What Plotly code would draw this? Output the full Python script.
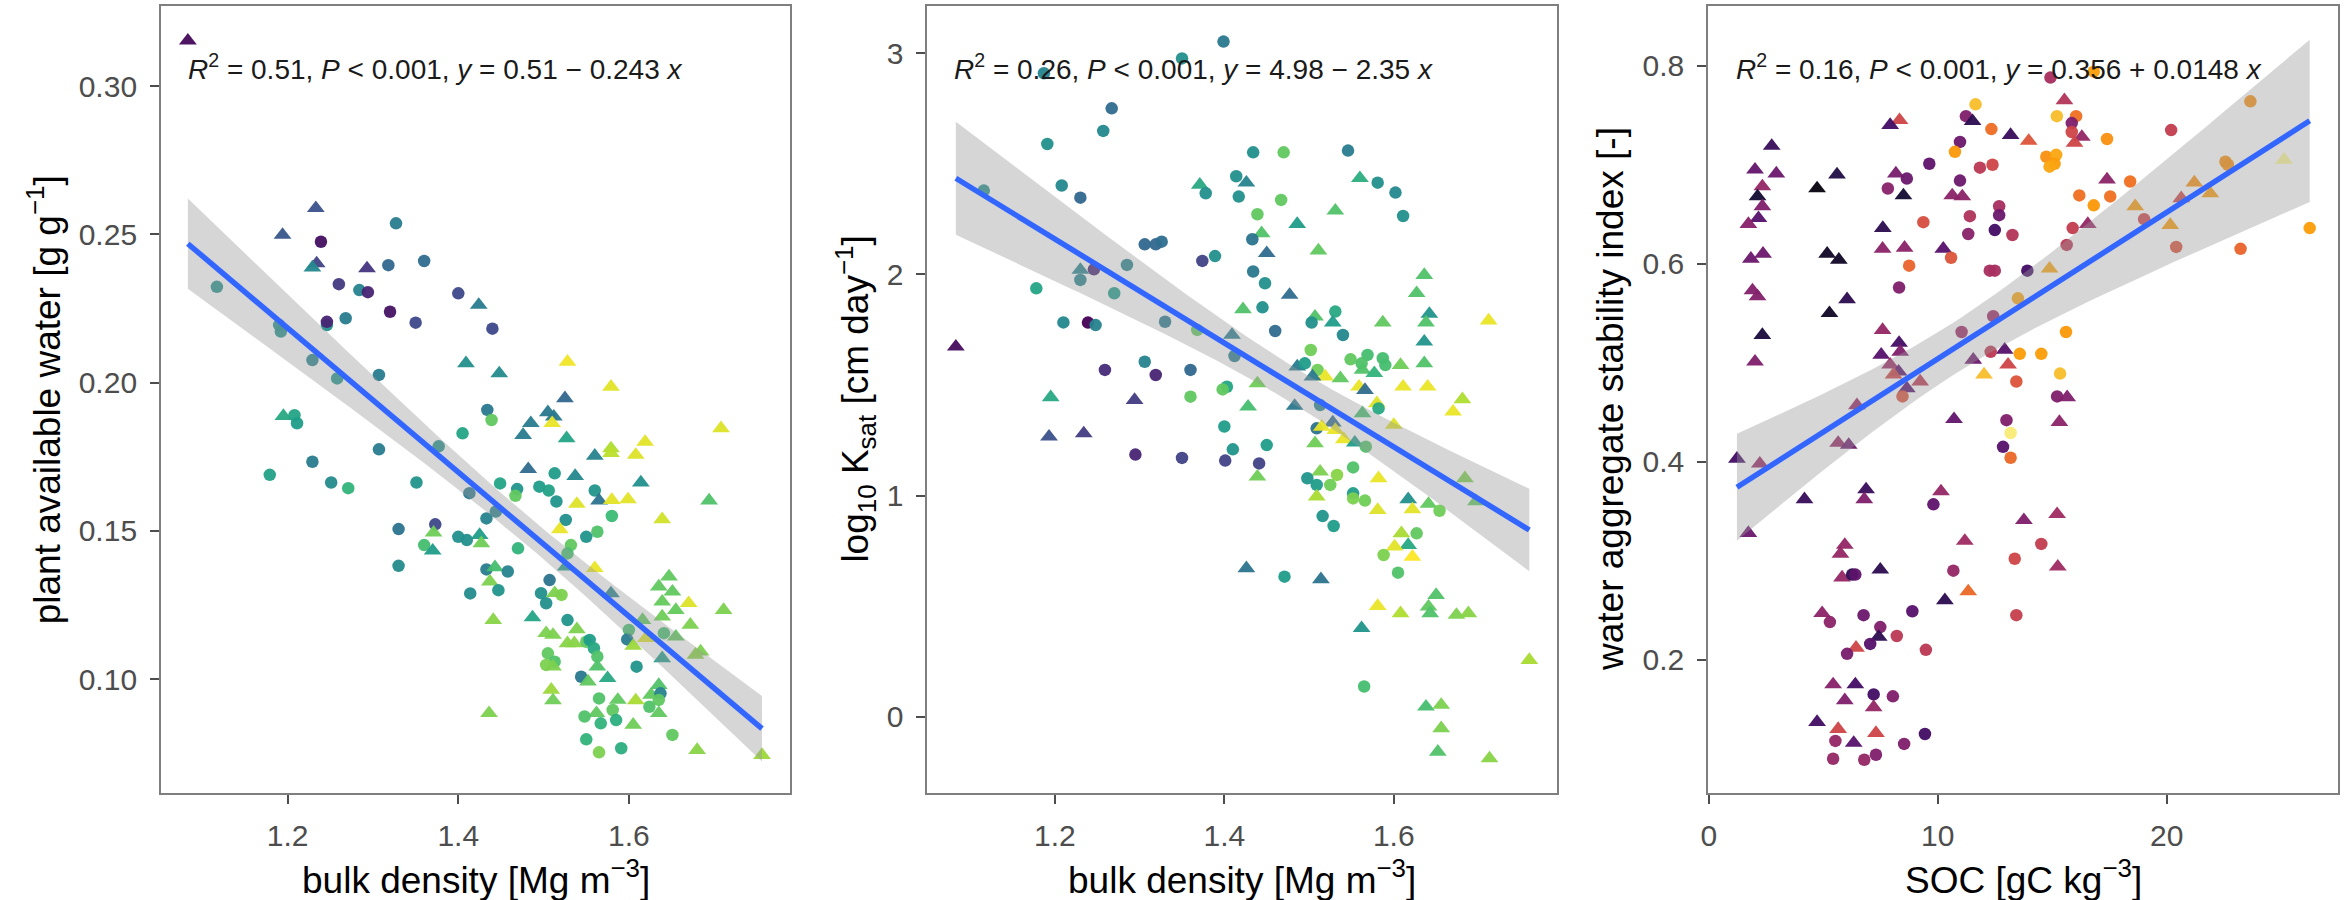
import numpy as np
import plotly.graph_objects as go

# ---------------- Panel 1: bulk density vs plant available water ----------------
p1_bd = [1.083,1.233,1.194,1.239,1.327,1.234,1.229,1.293,1.318,1.360,
         1.260,1.284,1.294,1.400,1.424,1.320,1.350,1.440,1.246,1.246,
         1.268,1.117,1.190,1.192,1.229,1.258,1.307,1.409,1.448,1.528,
         1.579,1.525,1.434,1.439,1.195,1.208,1.211,1.405,1.505,1.512,
         1.510,1.485,1.476,1.527,1.579,1.579,1.619,1.708,1.608,1.560,
         1.307,1.377,1.482,1.513,1.537,1.614,1.449,1.495,1.506,1.469,
         1.467,1.413,1.560,1.565,1.515,1.539,1.580,1.599,1.694,1.580,
         1.639,1.433,1.444,1.526,1.519,1.563,1.179,1.229,1.251,1.271,
         1.351,1.330,1.373,1.371,1.360,1.370,1.330,1.400,1.410,1.425,
         1.427,1.470,1.550,1.532,1.528,1.526,1.560,1.433,1.443,1.458,
         1.437,1.447,1.414,1.507,1.497,1.503,1.513,1.521,1.579,1.647,
         1.635,1.651,1.639,1.655,1.639,1.670,1.672,1.711,1.441,1.487,
         1.503,1.511,1.528,1.539,1.528,1.536,1.550,1.554,1.559,1.563,
         1.600,1.598,1.605,1.620,1.616,1.641,1.655,1.639,1.684,1.678,
         1.505,1.513,1.503,1.511,1.563,1.544,1.552,1.575,1.609,1.509,
         1.511,1.436,1.635,1.626,1.637,1.635,1.624,1.635,1.608,1.565,
         1.587,1.581,1.585,1.562,1.548,1.567,1.605,1.651,1.550,1.591,
         1.565,1.680,1.756]
p1_paw = [0.3153,0.2588,0.2498,0.2475,0.2537,0.2402,0.2388,0.2385,0.2396,0.2410,
          0.2332,0.2312,0.2305,0.2301,0.2262,0.2239,0.2202,0.2182,0.2194,0.2205,
          0.2217,0.2323,0.2194,0.2172,0.2076,0.2014,0.2026,0.2065,0.2031,0.2070,
          0.1986,0.1947,0.1908,0.1874,0.1887,0.1890,0.1863,0.1829,0.1900,0.1885,
          0.1863,0.1863,0.1823,0.1812,0.1778,0.1762,0.1800,0.1846,0.1756,0.1753,
          0.1775,0.1785,0.1708,0.1694,0.1685,0.1663,0.1660,0.1649,0.1636,0.1641,
          0.1618,0.1627,0.1636,0.1602,0.1599,0.1591,0.1604,0.1606,0.1602,0.1550,
          0.1539,0.1542,0.1565,0.1537,0.1505,0.1497,0.1689,0.1733,0.1663,0.1644,
          0.1663,0.1506,0.1522,0.1494,0.1452,0.1433,0.1382,0.1480,0.1469,0.1486,
          0.1458,0.1441,0.1480,0.1452,0.1424,0.1379,0.1374,0.1370,0.1377,0.1363,
          0.1329,0.1300,0.1289,0.1334,0.1290,0.1256,0.1290,0.1284,0.1289,0.1346,
          0.1312,0.1295,0.1261,0.1233,0.1211,0.1256,0.1183,0.1233,0.1199,0.1208,
          0.1155,0.1149,0.1199,0.1168,0.1121,0.1121,0.1126,0.1132,0.1104,0.1076,
          0.1166,0.1134,0.1112,0.1138,0.1199,0.1155,0.1143,0.1070,0.1093,0.1082,
          0.1087,0.1059,0.1048,0.1042,0.1042,0.1008,0.0992,0.1003,0.1042,0.0964,
          0.0928,0.0885,0.0980,0.0947,0.0952,0.0930,0.0907,0.0885,0.0928,0.0935,
          0.0930,0.0896,0.0862,0.0885,0.0874,0.0851,0.0846,0.0812,0.0797,0.0767,
          0.0753,0.0761,0.0744]
p1_shape = ["t","t","t","c","c","t","t","t","c","c",
            "c","c","c","c","t","c","c","c","c","c",
            "c","c","c","c","c","c","c","t","t","t",
            "t","t","c","c","t","c","c","c","t","t",
            "t","t","t","t","t","t","t","t","t","t",
            "c","c","t","c","t","t","c","c","c","c",
            "c","c","c","t","c","t","t","t","t","c",
            "t","c","c","c","t","c","c","c","c","c",
            "c","c","c","t","c","t","c","c","c","t",
            "t","c","c","c","c","t","t","c","t","c",
            "t","c","c","c","c","c","t","c","t","t",
            "t","t","t","t","t","t","t","t","t","t",
            "t","t","c","t","t","t","c","c","c","c",
            "c","c","t","t","t","c","t","t","t","t",
            "c","c","c","t","t","c","t","t","c","t",
            "t","t","t","t","c","c","c","t","t","c",
            "t","c","c","t","c","c","t","c","c","c",
            "c","t","t"]
p1_col = [0.02,0.25,0.27,0.04,0.42,0.20,0.47,0.15,0.33,0.35,
          0.17,0.45,0.10,0.22,0.42,0.05,0.22,0.22,0.50,0.10,
          0.42,0.50,0.50,0.50,0.45,0.52,0.42,0.50,0.48,0.98,
          0.96,0.33,0.40,0.75,0.60,0.58,0.55,0.58,0.40,0.40,
          0.97,0.42,0.42,0.58,0.88,0.90,0.96,0.95,0.95,0.45,
          0.42,0.50,0.35,0.55,0.47,0.50,0.58,0.55,0.57,0.52,
          0.75,0.40,0.52,0.38,0.52,0.95,0.96,0.96,0.72,0.68,
          0.93,0.45,0.45,0.50,0.97,0.72,0.57,0.42,0.48,0.65,
          0.52,0.38,0.22,0.78,0.70,0.55,0.48,0.50,0.50,0.55,
          0.78,0.65,0.52,0.75,0.70,0.55,0.97,0.42,0.70,0.45,
          0.80,0.52,0.48,0.38,0.50,0.50,0.80,0.80,0.45,0.75,
          0.75,0.75,0.76,0.76,0.78,0.95,0.80,0.80,0.82,0.58,
          0.80,0.80,0.52,0.80,0.82,0.82,0.75,0.55,0.60,0.72,
          0.70,0.42,0.85,0.95,0.75,0.70,0.75,0.55,0.80,0.82,
          0.75,0.72,0.80,0.80,0.72,0.40,0.75,0.60,0.52,0.85,
          0.78,0.80,0.72,0.75,0.45,0.75,0.72,0.75,0.87,0.72,
          0.75,0.75,0.62,0.75,0.72,0.65,0.78,0.75,0.65,0.62,
          0.80,0.82,0.85]
p1_fit = [0.51, -0.243]   # intercept, slope

# ---------------- Panel 2: bulk density vs log10 Ksat ----------------
p2_bd = [1.399,1.187,1.350,1.267,1.257,1.191,1.208,1.230,1.116,1.434,
         1.470,1.546,1.414,1.426,1.371,1.378,1.417,1.467,1.439,1.560,
         1.581,1.602,1.611,1.531,1.486,1.444,1.433,1.450,1.306,1.319,
         1.326,1.511,1.374,1.389,1.285,1.230,1.246,1.230,1.434,1.448,
         1.477,1.178,1.270,1.636,1.627,1.422,1.445,1.531,1.507,1.528,
         1.503,1.540,1.587,1.642,1.638,1.636,1.712,1.210,1.239,1.248,
         1.330,1.368,1.409,1.460,1.083,1.502,1.412,1.486,1.495,1.510,
         1.519,1.537,1.504,1.549,1.569,1.587,1.590,1.562,1.563,1.577,
         1.608,1.636,1.559,1.566,1.611,1.640,1.681,1.670,1.259,1.306,
         1.319,1.360,1.403,1.398,1.439,1.360,1.195,1.294,1.428,1.483,
         1.513,1.580,1.582,1.563,1.600,1.400,1.509,1.528,1.515,1.531,
         1.541,1.507,1.554,1.567,1.193,1.234,1.450,1.410,1.295,1.350,
         1.401,1.441,1.439,1.552,1.513,1.533,1.498,1.582,1.684,1.509,
         1.525,1.509,1.516,1.529,1.552,1.552,1.566,1.581,1.617,1.622,
         1.641,1.654,1.697,1.609,1.627,1.617,1.601,1.622,1.588,1.605,
         1.426,1.471,1.514,1.650,1.581,1.608,1.641,1.643,1.674,1.688,
         1.562,1.760,1.565,1.638,1.656,1.656,1.652,1.713]
p2_ksat = [3.053,2.910,2.977,2.751,2.649,2.590,2.402,2.347,2.379,2.552,
           2.552,2.560,2.444,2.415,2.405,2.367,2.352,2.337,2.272,2.435,
           2.415,2.370,2.264,2.288,2.228,2.186,2.159,2.096,2.136,2.136,
           2.148,2.108,2.061,2.083,2.043,2.020,2.023,1.975,2.013,1.960,
           1.907,1.937,1.915,1.997,1.915,1.842,1.851,1.832,1.809,1.782,
           1.782,1.726,1.782,1.821,1.782,1.696,1.791,1.783,1.782,1.771,
           1.786,1.749,1.726,1.744,1.673,1.658,1.631,1.583,1.598,1.568,
           1.538,1.530,1.538,1.616,1.636,1.621,1.590,1.598,1.568,1.553,
           1.590,1.598,1.492,1.477,1.492,1.492,1.435,1.379,1.568,1.605,
           1.545,1.568,1.492,1.480,1.507,1.447,1.444,1.432,1.402,1.405,
           1.409,1.417,1.394,1.372,1.319,1.312,1.304,1.330,1.311,1.296,
           1.254,1.236,1.239,1.221,1.266,1.281,1.228,1.209,1.185,1.170,
           1.158,1.145,1.085,1.127,1.108,1.093,1.078,1.078,1.078,1.048,
           1.048,0.995,0.907,0.862,1.010,0.987,0.977,0.934,0.983,0.937,
           0.962,0.931,0.974,0.829,0.829,0.776,0.769,0.723,0.731,0.651,
           0.671,0.633,0.621,0.550,0.500,0.467,0.497,0.467,0.460,0.467,
           0.400,0.256,0.136,0.045,0.053,-0.053,-0.159,-0.189]
p2_shape = ["c","c","c","c","c","c","c","c","c","c",
            "c","c","c","t","t","c","c","c","c","t",
            "c","c","c","t","t","t","c","t","c","c",
            "c","t","c","c","c","t","c","c","c","c",
            "t","c","c","t","t","t","c","c","t","t",
            "c","c","t","t","t","t","t","c","c","c",
            "c","c","t","c","t","c","c","t","c","c",
            "t","t","t","c","c","c","c","c","t","t",
            "t","t","t","t","t","t","t","t","c","c",
            "c","c","c","c","t","c","t","t","t","t",
            "c","t","c","t","t","c","c","t","t","t",
            "t","t","t","c","t","t","c","c","c","c",
            "c","c","t","c","t","c","c","t","t","c",
            "c","t","c","c","c","c","c","t","t","t",
            "t","c","t","t","c","t","t","t","c","c",
            "t","c","t","t","t","t","t","t","t","t",
            "t","t","c","t","t","t","t","t"]
p2_col = [0.40,0.45,0.50,0.35,0.47,0.50,0.47,0.33,0.50,0.50,
          0.75,0.42,0.50,0.45,0.60,0.50,0.50,0.75,0.75,0.62,
          0.50,0.47,0.50,0.72,0.55,0.72,0.38,0.35,0.33,0.33,
          0.36,0.75,0.20,0.50,0.45,0.45,0.10,0.45,0.40,0.50,
          0.35,0.58,0.55,0.72,0.72,0.72,0.50,0.60,0.72,0.55,
          0.50,0.47,0.75,0.52,0.72,0.52,0.97,0.47,0.00,0.45,
          0.40,0.75,0.42,0.35,0.03,0.78,0.42,0.42,0.55,0.78,
          0.97,0.75,0.40,0.75,0.70,0.70,0.70,0.72,0.72,0.65,
          0.78,0.72,0.97,0.35,0.97,0.97,0.88,0.97,0.12,0.45,
          0.10,0.33,0.58,0.75,0.78,0.75,0.60,0.18,0.70,0.40,
          0.45,0.95,0.60,0.70,0.95,0.55,0.38,0.35,0.97,0.97,
          0.97,0.78,0.55,0.72,0.25,0.18,0.55,0.52,0.10,0.20,
          0.20,0.20,0.78,0.72,0.80,0.82,0.52,0.97,0.80,0.55,
          0.78,0.87,0.52,0.55,0.55,0.80,0.78,0.95,0.50,0.96,
          0.75,0.78,0.75,0.87,0.75,0.60,0.96,1.00,0.80,0.72,
          0.38,0.55,0.38,0.72,0.97,0.88,0.75,0.72,0.80,0.82,
          0.52,0.87,0.70,0.70,0.80,0.80,0.72,0.82]
p2_fit = [4.98, -2.35]

# ---------------- Panel 3: SOC vs water aggregate stability ----------------
p3_soc = [14.92,16.81,15.53,11.65,15.20,16.04,8.33,7.92,11.23,11.52,
          12.34,13.18,13.97,15.85,15.85,16.29,15.97,17.39,2.75,10.97,
          10.75,14.74,15.17,15.10,14.88,9.63,2.02,2.95,5.60,11.84,
          12.39,8.17,8.65,17.39,2.34,4.73,10.97,7.82,2.13,8.50,
          10.63,11.07,16.18,16.81,17.53,18.40,2.34,12.68,12.68,2.17,
          1.73,9.37,11.40,7.60,12.49,11.33,13.26,15.89,16.55,15.63,
          7.59,8.55,10.24,10.58,1.84,2.37,5.17,5.68,8.75,12.27,
          12.49,13.91,14.88,8.31,1.91,2.13,6.04,13.50,5.27,12.42,
          2.34,11.04,15.60,7.59,8.31,8.36,7.53,2.02,12.92,12.31,
          13.58,14.52,11.55,13.07,7.92,8.29,8.07,12.02,15.34,13.43,
          9.23,8.65,8.46,15.21,15.65,6.47,10.71,13.00,13.18,15.31,
          5.65,6.11,12.85,23.65,20.19,22.56,22.67,25.12,21.20,21.90,
          20.63,18.62,19.01,20.15,26.24,20.41,23.22,1.23,2.23,13.18,
          4.18,6.87,6.79,10.14,9.81,1.73,13.76,15.21,5.94,5.75,
          11.18,14.52,13.36,15.24,5.82,6.26,6.40,7.49,10.68,11.33,
          10.31,13.43,4.95,5.29,6.76,8.89,7.49,7.42,7.05,8.21,
          6.43,6.04,9.48,5.43,6.40,7.20,8.04,5.94,7.20,4.73,
          5.65,5.53,6.33,7.30,9.44,8.53,5.43,6.79,7.30]
p3_wsa = [0.788,0.794,0.765,0.761,0.749,0.749,0.745,0.740,0.749,0.744,
          0.736,0.730,0.724,0.742,0.733,0.728,0.722,0.726,0.719,0.723,
          0.713,0.708,0.710,0.701,0.698,0.701,0.695,0.691,0.690,0.697,
          0.700,0.691,0.686,0.685,0.678,0.676,0.684,0.676,0.668,0.669,
          0.669,0.668,0.669,0.659,0.668,0.683,0.658,0.658,0.649,0.646,
          0.640,0.642,0.648,0.636,0.634,0.630,0.629,0.636,0.640,0.619,
          0.615,0.616,0.615,0.606,0.605,0.610,0.610,0.604,0.598,0.593,
          0.593,0.593,0.595,0.576,0.573,0.567,0.564,0.565,0.550,0.547,
          0.528,0.531,0.531,0.533,0.520,0.511,0.508,0.501,0.513,0.511,
          0.509,0.509,0.503,0.498,0.498,0.491,0.488,0.488,0.489,0.481,
          0.481,0.474,0.466,0.466,0.465,0.457,0.443,0.442,0.429,0.440,
          0.419,0.417,0.415,0.764,0.735,0.703,0.700,0.705,0.682,0.671,
          0.666,0.658,0.645,0.639,0.636,0.617,0.615,0.403,0.398,0.404,
          0.362,0.372,0.362,0.370,0.357,0.328,0.341,0.347,0.316,0.307,
          0.320,0.317,0.302,0.294,0.283,0.286,0.286,0.291,0.290,0.269,
          0.260,0.245,0.247,0.238,0.245,0.249,0.233,0.223,0.216,0.224,
          0.212,0.206,0.210,0.175,0.175,0.165,0.163,0.159,0.152,0.137,
          0.130,0.118,0.116,0.126,0.125,0.115,0.100,0.099,0.104]
p3_shape = ["c","c","t","c","c","c","t","t","c","t",
            "c","t","t","c","c","t","t","c","t","c",
            "c","c","c","c","c","c","t","t","t","c",
            "c","t","c","t","t","t","c","c","t","t",
            "t","t","c","c","c","c","t","c","c","t",
            "t","c","c","t","c","c","c","c","t","c",
            "t","t","t","c","t","t","t","t","c","c",
            "c","c","t","c","t","t","t","c","t","c",
            "t","c","c","t","t","t","t","t","t","c",
            "c","c","t","t","t","t","t","t","c","c",
            "t","t","c","c","t","t","t","c","c","t",
            "t","t","c","c","c","c","c","t","t","t",
            "t","t","c","t","c","c","c","t","t","c",
            "t","t","t","t","c","t","t","t","t","t",
            "t","c","c","t","t","c","c","t","c","t",
            "t","c","t","c","c","c","c","t","c","c",
            "t","c","c","t","t","c","c","t","t","t",
            "t","c","t","t","c","c","c","c","c"]
p3_col = [0.45,0.78,0.48,0.85,0.85,0.68,0.55,0.20,0.35,0.15,
          0.67,0.18,0.60,0.35,0.55,0.40,0.55,0.75,0.18,0.30,
          0.77,0.75,0.80,0.78,0.80,0.27,0.28,0.30,0.12,0.50,
          0.55,0.33,0.30,0.38,0.40,0.02,0.30,0.37,0.08,0.08,
          0.38,0.38,0.68,0.77,0.68,0.68,0.35,0.45,0.30,0.25,
          0.37,0.58,0.47,0.15,0.20,0.37,0.48,0.52,0.40,0.50,
          0.38,0.38,0.25,0.60,0.30,0.30,0.06,0.06,0.65,0.45,
          0.45,0.20,0.80,0.35,0.36,0.36,0.15,0.80,0.06,0.42,
          0.10,0.42,0.77,0.40,0.20,0.35,0.25,0.35,0.25,0.50,
          0.78,0.78,0.30,0.55,0.42,0.25,0.55,0.85,0.85,0.60,
          0.50,0.25,0.60,0.35,0.35,0.40,0.28,0.35,0.95,0.38,
          0.40,0.30,0.25,0.75,0.52,0.75,0.75,0.98,0.75,0.78,
          0.55,0.78,0.55,0.78,0.78,0.60,0.65,0.20,0.40,0.66,
          0.18,0.18,0.35,0.40,0.27,0.30,0.35,0.43,0.40,0.40,
          0.43,0.52,0.55,0.43,0.40,0.15,0.27,0.15,0.40,0.66,
          0.15,0.53,0.38,0.38,0.30,0.25,0.35,0.15,0.25,0.50,
          0.55,0.33,0.50,0.37,0.20,0.20,0.35,0.35,0.40,0.20,
          0.55,0.40,0.25,0.55,0.20,0.35,0.40,0.40,0.35]
p3_fit = [0.356, 0.0148]

x_ticks_bd = [1.2, 1.4, 1.6]
y_ticks_p1 = [0.10, 0.15, 0.20, 0.25, 0.30]
y_ticks_p2 = [0, 1, 2, 3]
x_ticks_p3 = [0, 10, 20]
y_ticks_p3 = [0.2, 0.4, 0.6, 0.8]

eq_labels = [
    "<i>R</i><sup>2</sup> = 0.51, <i>P</i> &lt; 0.001, <i>y</i> = 0.51 − 0.243 <i>x</i>",
    "<i>R</i><sup>2</sup> = 0.26, <i>P</i> &lt; 0.001, <i>y</i> = 4.98 − 2.35 <i>x</i>",
    "<i>R</i><sup>2</sup> = 0.16, <i>P</i> &lt; 0.001, <i>y</i> = 0.356 + 0.0148 <i>x</i>",
]
x_titles = ["bulk density [Mg m<sup>−3</sup>]", "bulk density [Mg m<sup>−3</sup>]",
            "SOC [gC kg<sup>−3</sup>]"]
y_titles = ["plant available water [g g<sup>−1</sup>]",
            "log<sub>10</sub> K<sub>sat</sub> [cm day<sup>−1</sup>]",
            "water aggregate stability index [-]"]

# ---------------- figure ----------------
W, H = 2351, 900
FONT = "Liberation Sans, Arial, Helvetica, sans-serif"
dom_x = [[153.6 / W, 784.9 / W], [922.6 / W, 1554.3 / W], [1706.1 / W, 2338.3 / W]]
dom_y = [1 - 793 / H, 1 - 6 / H]
ranges_x = [[1.0516, 1.7891], [1.0495, 1.7927], [-0.02, 27.49]]
ranges_y = [[0.0616, 0.3270], [-0.3455, 3.214], [0.0654, 0.8603]]

panels = [
    (p1_bd, p1_paw, p1_shape, p1_col, p1_fit, "Viridis"),
    (p2_bd, p2_ksat, p2_shape, p2_col, p2_fit, "Viridis"),
    (p3_soc, p3_wsa, p3_shape, p3_col, p3_fit, "Inferno"),
]

fig = go.Figure()
for i, (xs, ys, sh, cv, fit, cscale) in enumerate(panels):
    ax = "" if i == 0 else str(i + 1)
    xa, ya = "x" + ax, "y" + ax
    x = np.array(xs, dtype=float)
    y = np.array(ys, dtype=float)
    symbols = ["triangle-up" if s == "t" else "circle" for s in sh]
    sizes = [15.5 if s == "t" else 12.5 for s in sh]
    fig.add_trace(go.Scatter(
        x=x, y=y, mode="markers", xaxis=xa, yaxis=ya, showlegend=False,
        hoverinfo="skip",
        marker=dict(symbol=symbols, size=sizes, color=cv, colorscale=cscale,
                    cmin=0, cmax=1, line=dict(width=0), opacity=0.95)))
    # confidence band from the data residuals around the fitted line
    a, b = fit
    n = len(x)
    resid = y - (a + b * x)
    s = np.sqrt(np.sum(resid ** 2) / (n - 2))
    xbar = x.mean()
    sxx = np.sum((x - xbar) ** 2)
    xg = np.linspace(x.min(), x.max(), 80)
    yg = a + b * xg
    se = s * np.sqrt(1.0 / n + (xg - xbar) ** 2 / sxx)
    tval = 1.974
    lo, hi = yg - tval * se, yg + tval * se
    fig.add_trace(go.Scatter(
        x=np.concatenate([xg, xg[::-1]]), y=np.concatenate([hi, lo[::-1]]),
        mode="lines", fill="toself", fillcolor="rgba(153,153,153,0.4)",
        line=dict(width=0), xaxis=xa, yaxis=ya, showlegend=False, hoverinfo="skip"))
    fig.add_trace(go.Scatter(
        x=xg, y=yg, mode="lines", line=dict(color="#3366FF", width=5.5),
        xaxis=xa, yaxis=ya, showlegend=False, hoverinfo="skip"))

axis_common = dict(showline=True, linecolor="#7F7F7F", linewidth=2, mirror=True,
                   ticks="outside", ticklen=9, tickwidth=2, tickcolor="#4D4D4D",
                   showgrid=False, zeroline=False,
                   tickfont=dict(family=FONT, size=30, color="#4D4D4D"))

xtick_sets = [x_ticks_bd, x_ticks_bd, x_ticks_p3]
ytick_sets = [y_ticks_p1, y_ticks_p2, y_ticks_p3]
ytick_fmt = ["{:.2f}", "{:.0f}", "{:.1f}"]
xtick_fmt = ["{:.1f}", "{:.1f}", "{:.0f}"]
layout = {}
for i in range(3):
    ax = "" if i == 0 else str(i + 1)
    layout["xaxis" + ax] = dict(axis_common, domain=dom_x[i], range=ranges_x[i],
                                anchor="y" + ax, tickvals=xtick_sets[i],
                                ticktext=[xtick_fmt[i].format(v) for v in xtick_sets[i]],
                                ticklabelstandoff=6)
    layout["yaxis" + ax] = dict(axis_common, domain=dom_y, range=ranges_y[i],
                                anchor="x" + ax, tickvals=ytick_sets[i],
                                ticktext=[ytick_fmt[i].format(v) for v in ytick_sets[i]],
                                ticklabelstandoff=7)

annotations = []
eq_x = [179, 947, 1732]
ytitle_x = [37, 850, 1608]
for i in range(3):
    annotations.append(dict(text=eq_labels[i], xref="paper", yref="paper",
                            x=eq_x[i] / W, y=1 - 67 / H, xanchor="left", yanchor="middle",
                            showarrow=False, font=dict(family=FONT, size=28, color="#1A1A1A")))
    cx = (dom_x[i][0] + dom_x[i][1]) / 2
    annotations.append(dict(text=x_titles[i], xref="paper", yref="paper",
                            x=cx, y=1 - 877 / H, xanchor="center", yanchor="middle",
                            showarrow=False, font=dict(family=FONT, size=37, color="#000000")))
    annotations.append(dict(text=y_titles[i], xref="paper", yref="paper",
                            x=ytitle_x[i] / W, y=1 - 399.5 / H, xanchor="center",
                            yanchor="middle", textangle=-90, showarrow=False,
                            font=dict(family=FONT, size=37, color="#000000")))

fig.update_layout(width=W, height=H, margin=dict(l=0, r=0, t=0, b=0),
                  paper_bgcolor="white", plot_bgcolor="white",
                  showlegend=False, annotations=annotations, **layout)

fig.write_html("out.html")
